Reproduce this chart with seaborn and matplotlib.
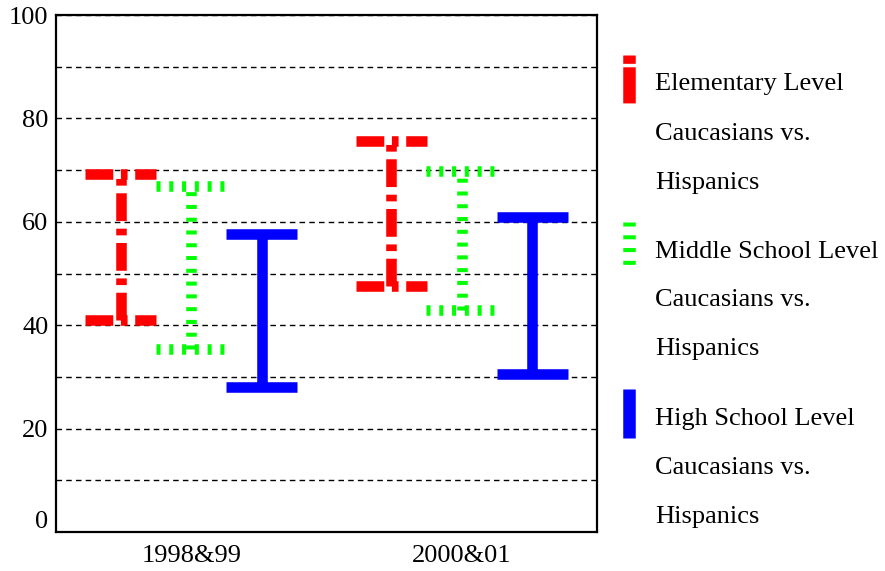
import numpy as np
import pandas as pd
import matplotlib
matplotlib.use("Agg")
import matplotlib.pyplot as plt
import seaborn as sns
from matplotlib.lines import Line2D
from matplotlib.transforms import ScaledTranslation

# ---------------- data ----------------
years = ["1998&99", "2000&01"]
levels = ["Elementary Level", "Middle School Level", "High School Level"]
legend_labels = [
    "Elementary Level\nCaucasians vs.\nHispanics",
    "Middle School Level\nCaucasians vs.\nHispanics",
    "High School Level\nCaucasians vs.\nHispanics",
]
elem_low = [41.0, 47.6]
elem_high = [69.2, 75.7]
mid_low = [35.4, 42.9]
mid_high = [67.0, 69.9]
high_low = [28.0, 30.6]
high_high = [57.7, 60.9]
y_major = [0, 20, 40, 60, 80, 100]
y_minor = [10, 30, 50, 70, 90]

colors = ["#FF0000", "#00FF00", "#0000FF"]

rows = []
for lev, lo, hi in zip(levels, [elem_low, mid_low, high_low],
                       [elem_high, mid_high, high_high]):
    for yr, l, h in zip(years, lo, hi):
        rows.append({"Year": yr, "Level": lev, "Value": l})
        rows.append({"Year": yr, "Level": lev, "Value": h})
df = pd.DataFrame(rows)

# ---------------- style ----------------
sns.set_theme(style="white")
plt.rcParams["font.family"] = ["Liberation Serif", "DejaVu Serif"]
plt.rcParams["lines.scale_dashes"] = False

W, H = 885, 571
fig = plt.figure(figsize=(W / 100, H / 100), dpi=100)
ax = fig.add_axes([56 / W, 1 - 532 / H, 541 / W, 517 / H])

line_styles = [(0, (20, 5.5, 4.8, 5.5)), (0, (2.9, 6.3)), "-"]
LW = 7.6

for lev, ls in zip(levels, line_styles):
    sns.pointplot(
        data=df[df["Level"] == lev], x="Year", y="Value",
        hue="Level", hue_order=levels, order=years, palette=colors,
        estimator="mean", errorbar=("pi", 100), dodge=0.52, capsize=0.262,
        marker="", linestyle="none", legend=False,
        err_kws={"linewidth": LW, "linestyle": ls,
                 "solid_capstyle": "butt", "dash_capstyle": "butt"},
        ax=ax,
    )

ax.set_xlim(-0.5, 1.5)
ax.set_ylim(0, 100)
ax.set_yticks(y_major)
ax.set_yticks(y_minor, minor=True)
ax.set_xlabel("")
ax.set_ylabel("")
ax.set_axisbelow(True)
ax.grid(axis="y", which="both", color="black",
        linestyle=(0, (4, 3)), linewidth=1.0)
ax.grid(axis="x", visible=False)

for sp in ax.spines.values():
    sp.set_visible(True)
    sp.set_color("black")
    sp.set_linewidth(1.6)

ax.tick_params(axis="both", which="major", direction="out", length=3,
               width=2.5, color="black", labelsize=19, labelcolor="black")
ax.tick_params(axis="y", which="major", pad=2.5)
ax.tick_params(axis="x", which="major", pad=6)
ax.tick_params(axis="y", which="minor", length=0)

# raise the "0" label like in the reference
lbl0 = ax.yaxis.get_major_ticks()[0].label1
lbl0.set_transform(lbl0.get_transform()
                   + ScaledTranslation(0, 0.12, fig.dpi_scale_trans))

# ---------------- legend (right side) ----------------
first_line_y = [82, 249, 417]
handle_spans = [(55, 103), (222, 272), (389, 438)]
handle_styles = [(0, (6, 2.5, 26, 5)), (0, (2.9, 6.3)), "-"]
for i, lab in enumerate(legend_labels):
    for j, txt in enumerate(lab.split("\n")):
        fig.text(655 / W, 1 - (first_line_y[i] + 49 * j + 8.5) / H, txt,
                 va="baseline", ha="left", fontsize=19, color="black")
    y1, y2 = handle_spans[i]
    fig.add_artist(Line2D([628.5 / W, 628.5 / W], [1 - y1 / H, 1 - y2 / H],
                          transform=fig.transFigure, color=colors[i],
                          linewidth=9, linestyle=handle_styles[i],
                          solid_capstyle="butt", dash_capstyle="butt"))

fig.savefig("out.png", dpi=100)
